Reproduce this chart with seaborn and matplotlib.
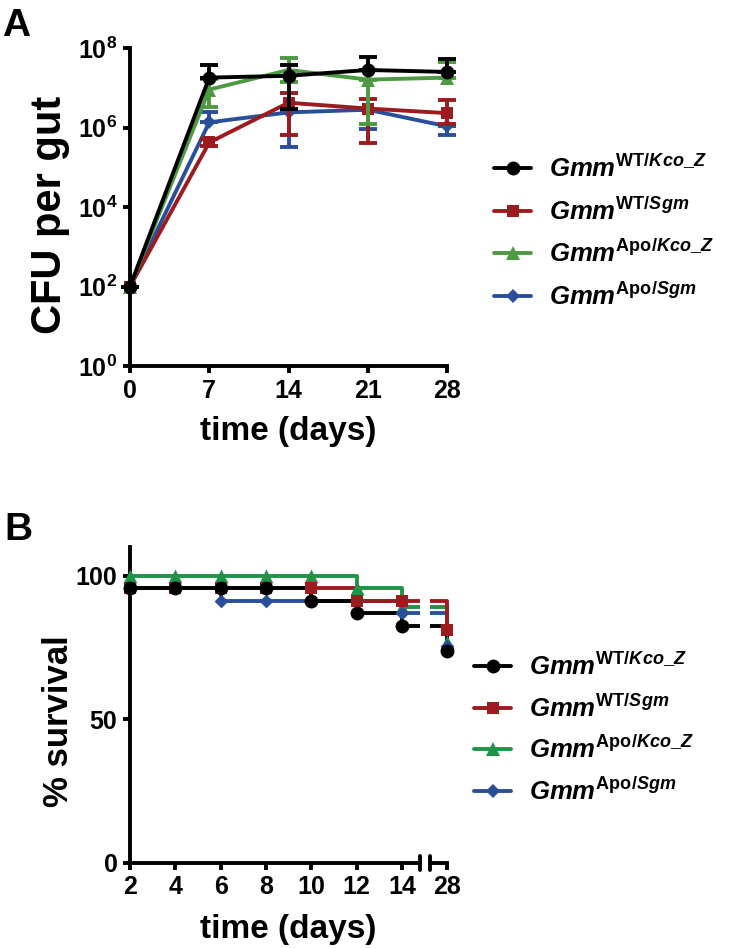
import numpy as np
import pandas as pd
import seaborn as sns
import matplotlib
matplotlib.use('Agg')
import matplotlib.pyplot as plt
from matplotlib.lines import Line2D

sns.set_theme(style='ticks')
plt.rcParams['font.family'] = ['Liberation Sans', 'DejaVu Sans']
plt.rcParams['font.weight'] = 'bold'
plt.rcParams['mathtext.fontset'] = 'custom'
plt.rcParams['mathtext.rm'] = 'Liberation Sans:bold'
plt.rcParams['mathtext.it'] = 'Liberation Sans:italic:bold'
plt.rcParams['mathtext.bf'] = 'Liberation Sans:bold'
plt.rcParams['axes.linewidth'] = 2.8
for k in ['text.color', 'axes.labelcolor', 'axes.edgecolor', 'xtick.color', 'ytick.color']:
    plt.rcParams[k] = 'black'

# ---- data ----
groups = ['WT/Kco_Z', 'WT/Sgm', 'Apo/Kco_Z', 'Apo/Sgm']
legend_labels = [r'$Gmm^{\mathrm{WT/}Kco\_Z}$', r'$Gmm^{\mathrm{WT/}Sgm}$',
                 r'$Gmm^{\mathrm{Apo/}Kco\_Z}$', r'$Gmm^{\mathrm{Apo/}Sgm}$']

# panel A: CFU per gut (mean, lower and upper error limits)
days_a = [0, 7, 14, 21, 28]
cfu_mean = {
    'WT/Kco_Z':  [1.0e2, 1.8e7, 2.0e7, 2.8e7, 2.5e7],
    'WT/Sgm':    [1.0e2, 4.2e5, 4.2e6, 3.0e6, 2.3e6],
    'Apo/Kco_Z': [1.0e2, 9.0e6, 2.8e7, 1.6e7, 1.8e7],
    'Apo/Sgm':   [1.0e2, 1.35e6, 2.4e6, 2.8e6, 1.07e6],
}
cfu_lo = {
    'WT/Kco_Z':  [1.0e2, 1.8e7, 3.0e6, 2.8e7, 2.5e7],
    'WT/Sgm':    [1.0e2, 3.5e5, 6.6e5, 4.0e5, 1.2e6],
    'Apo/Kco_Z': [1.0e2, 3.3e6, 1.4e7, 1.26e6, 1.8e7],
    'Apo/Sgm':   [1.0e2, 1.35e6, 3.2e5, 9.3e5, 6.6e5],
}
cfu_hi = {
    'WT/Kco_Z':  [1.0e2, 3.7e7, 3.7e7, 5.9e7, 5.2e7],
    'WT/Sgm':    [1.0e2, 5.0e5, 7.4e6, 5.2e6, 4.8e6],
    'Apo/Kco_Z': [1.0e2, 1.7e7, 5.6e7, 1.6e7, 4.5e7],
    'Apo/Sgm':   [1.0e2, 2.4e6, 2.4e6, 2.8e6, 1.07e6],
}

# panel B: % survival (Kaplan-Meier steps)
days_b = [2, 4, 6, 8, 10, 12, 14, 28]
survival = {
    'WT/Kco_Z':  [95.7, 95.7, 95.7, 95.7, 91.3, 87.0, 82.6, 73.9],
    'WT/Sgm':    [95.7, 95.7, 95.7, 95.7, 95.7, 91.3, 91.3, 81.0],
    'Apo/Kco_Z': [100, 100, 100, 100, 100, 95.7, 89.0, 77.0],
    'Apo/Sgm':   [95.7, 95.7, 91.3, 91.3, 91.3, 91.3, 87.0, 75.6],
}

colors_a = {'WT/Kco_Z': '#000000', 'WT/Sgm': '#9c1b1f',
            'Apo/Kco_Z': '#4e9a43', 'Apo/Sgm': '#2a4f9a'}
colors_b = {'WT/Kco_Z': '#000000', 'WT/Sgm': '#9c1b1f',
            'Apo/Kco_Z': '#1f9448', 'Apo/Sgm': '#2a4f9a'}
markers = {'WT/Kco_Z': 'o', 'WT/Sgm': 's', 'Apo/Kco_Z': '^', 'Apo/Sgm': 'D'}
msize = {'WT/Kco_Z': 10, 'WT/Sgm': 9, 'Apo/Kco_Z': 10, 'Apo/Sgm': 7}

fig = plt.figure(figsize=(7.5, 9.48), dpi=100)

# ---------------- panel A ----------------
axA = fig.add_axes([130/750, 1-366/948, 317/750, 318/948])
draw_order_a = ['Apo/Sgm', 'WT/Sgm', 'Apo/Kco_Z', 'WT/Kco_Z']
for g in draw_order_a:
    m = np.array(cfu_mean[g])
    err = [m - np.array(cfu_lo[g]), np.array(cfu_hi[g]) - m]
    axA.errorbar(days_a, m, yerr=err, fmt='none', ecolor=colors_a[g],
                 elinewidth=2.8, capsize=6.5, capthick=2.8, clip_on=False)
    sns.lineplot(x=days_a, y=m, ax=axA, color=colors_a[g], marker=markers[g],
                 markersize=msize[g], markeredgewidth=0, linewidth=2.8,
                 errorbar=None, clip_on=False)
axA.set_yscale('log')
axA.set_ylim(1, 1e8)
axA.set_xlim(0, 28)
axA.set_yticks([1, 1e2, 1e4, 1e6, 1e8])
axA.set_yticklabels([r'$10^{0}$', r'$10^{2}$', r'$10^{4}$', r'$10^{6}$', r'$10^{8}$'])
axA.minorticks_off()
axA.set_xticks(days_a)
axA.tick_params(width=2.8, length=5, labelsize=18, pad=4)
axA.set_xlabel('time (days)', fontsize=24, fontweight='bold', labelpad=10)
axA.set_ylabel('CFU per gut', fontsize=30, fontweight='bold')
axA.yaxis.set_label_coords(-0.19, 0.475)
sns.despine(ax=axA)

handles_a = [Line2D([], [], color=colors_a[g], marker=markers[g], markersize=msize[g],
                    markeredgewidth=0, linewidth=2.8) for g in groups]
fig.legend(handles_a, legend_labels, loc='upper left', bbox_to_anchor=(494/750, 1-155/948),
           frameon=False, fontsize=18.5, handlelength=1.45, handletextpad=0.7,
           labelspacing=0.6, borderpad=0, borderaxespad=0)

fig.text(2/750, 1-36/948, 'A', fontsize=28, fontweight='bold')

# ---------------- panel B ----------------
bottom_b = 1 - 863/948
height_b = 316/948
axL = fig.add_axes([130/750, bottom_b, 290/750, height_b])
axR = fig.add_axes([430/750, bottom_b, 28/750, height_b])
draw_order_b = ['Apo/Kco_Z', 'Apo/Sgm', 'WT/Sgm', 'WT/Kco_Z']
for ax, (x0, x1) in [(axL, (2, 14.8)), (axR, (27.25, 28.5))]:
    for g in draw_order_b:
        sns.lineplot(x=days_b, y=survival[g], ax=ax, color=colors_b[g],
                     drawstyle='steps-post', linewidth=2.8, errorbar=None, sort=False)
        pts = pd.DataFrame({'day': days_b, 'surv': survival[g]})
        pts = pts[(pts['day'] >= x0) & (pts['day'] <= x1)]
        sns.scatterplot(data=pts, x='day', y='surv', ax=ax, color=colors_b[g],
                        marker=markers[g], s=msize[g]**2, linewidth=0,
                        clip_on=False, zorder=3)
    ax.set_xlim(x0, x1)
    ax.set_ylim(0, 110)
    ax.set_xlabel('')
    ax.set_ylabel('')
    ax.tick_params(width=2.8, length=5, labelsize=18, pad=4)

axL.set_xticks([2, 4, 6, 8, 10, 12, 14])
axL.set_yticks([0, 50, 100])
axL.set_ylabel('% survival', fontsize=25, fontweight='bold')
axL.yaxis.set_label_coords(-0.19, 0.45)
sns.despine(ax=axL)
axR.set_xticks([28])
axR.set_yticks([])
sns.despine(ax=axR, left=True)
axR.spines['bottom'].set_bounds(27.25, 28)
# axis break marks
for ax, xb in [(axL, 1.0), (axR, 0.0)]:
    ax.plot([xb, xb], [-0.022, 0.022], transform=ax.transAxes, color='black',
            linewidth=2.8, clip_on=False)
fig.text(288/750, 1-938/948, 'time (days)', fontsize=24, fontweight='bold', ha='center')

handles_b = [Line2D([], [], color=colors_b[g], marker=markers[g], markersize=msize[g],
                    markeredgewidth=0, linewidth=2.8) for g in groups]
fig.legend(handles_b, legend_labels, loc='upper left', bbox_to_anchor=(474/750, 1-653/948),
           frameon=False, fontsize=18.5, handlelength=1.45, handletextpad=0.7,
           labelspacing=0.56, borderpad=0, borderaxespad=0)

fig.text(4/750, 1-540/948, 'B', fontsize=28, fontweight='bold')

fig.savefig('out.png', dpi=100)
